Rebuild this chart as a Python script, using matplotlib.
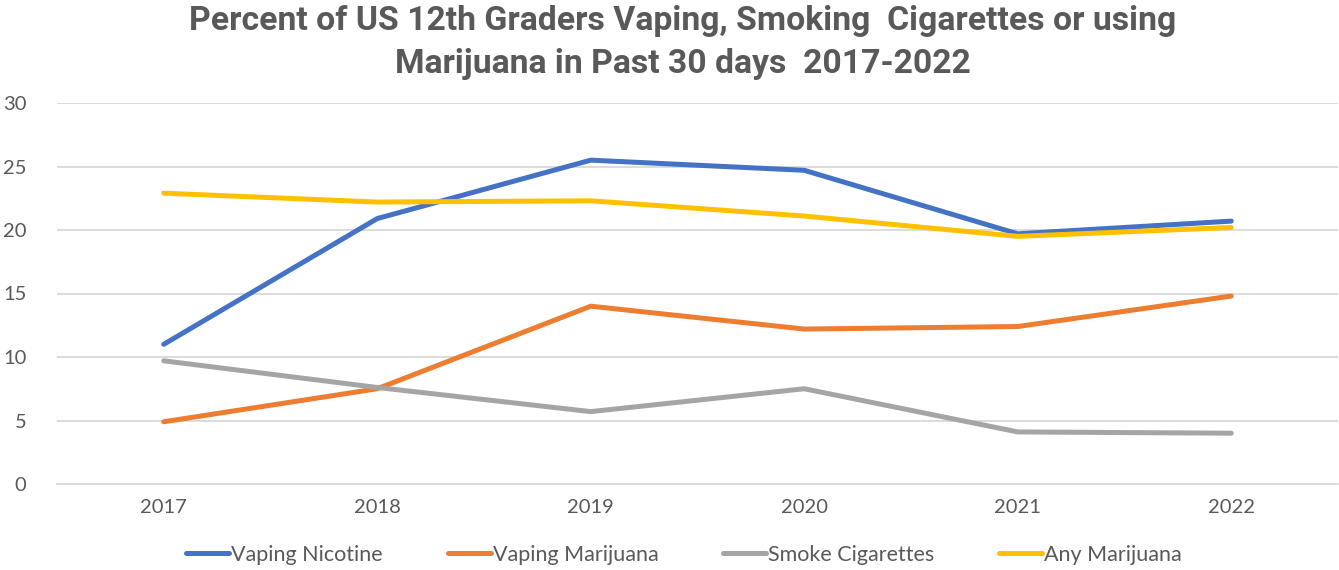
import matplotlib
matplotlib.use("Agg")
import matplotlib.pyplot as plt

years = ["2017", "2018", "2019", "2020", "2021", "2022"]
vaping_nicotine = [11.0, 20.9, 25.5, 24.7, 19.7, 20.7]
vaping_marijuana = [4.9, 7.5, 14.0, 12.2, 12.4, 14.8]
smoke_cigarettes = [9.7, 7.6, 5.7, 7.5, 4.1, 4.0]
any_marijuana = [22.9, 22.2, 22.3, 21.1, 19.5, 20.2]

series = [
    ("Vaping Nicotine", vaping_nicotine, "#4472C4"),
    ("Vaping Marijuana", vaping_marijuana, "#ED7D31"),
    ("Smoke Cigarettes", smoke_cigarettes, "#A5A5A5"),
    ("Any Marijuana", any_marijuana, "#FFC000"),
]

txt = "#595959"
plt.rcParams['font.family'] = ['Lato', 'DejaVu Sans']

fig = plt.figure(figsize=(13.39, 5.70), dpi=100)
ax = fig.add_axes([57/1339, 1-484/570, (1338-57)/1339, (484-103)/570])

x = list(range(len(years)))
for name, vals, col in series:
    ax.plot(x, vals, color=col, lw=3.6, solid_capstyle='round', label=name, zorder=3)

ax.set_xlim(-0.5, 5.5)
ax.set_ylim(0, 30)
ax.set_yticks([0, 5, 10, 15, 20, 25, 30])
ax.set_xticks(x)
ax.set_xticklabels(years)
ax.yaxis.grid(True, color="#D9D9D9", lw=1.3)
ax.set_axisbelow(True)
for s in ["top", "right", "left"]:
    ax.spines[s].set_visible(False)
ax.spines["bottom"].set_color("#D9D9D9")
ax.spines["bottom"].set_linewidth(1.3)
ax.tick_params(axis="both", length=0, colors=txt, labelsize=14.5)
ax.tick_params(axis="y", pad=22)
ax.tick_params(axis="x", pad=11)

title_font = ['Roboto', 'DejaVu Sans']
fig.text(0.5097, 1-21/570, "Percent of US 12th Graders Vaping, Smoking  Cigarettes or using",
         ha="center", va="center", fontsize=24.3, fontweight="bold", color=txt, family=title_font)
fig.text(0.5097, 1-64/570, "Marijuana in Past 30 days  2017-2022",
         ha="center", va="center", fontsize=24.3, fontweight="bold", color=txt, family=title_font)

leg = fig.legend(loc="center", bbox_to_anchor=(0.511, 1-555/570), ncol=4, frameon=False,
                 fontsize=15.5, handlelength=2.0, handletextpad=0.1, columnspacing=3.0,
                 labelcolor=txt)

fig.savefig("out.png", dpi=100)
